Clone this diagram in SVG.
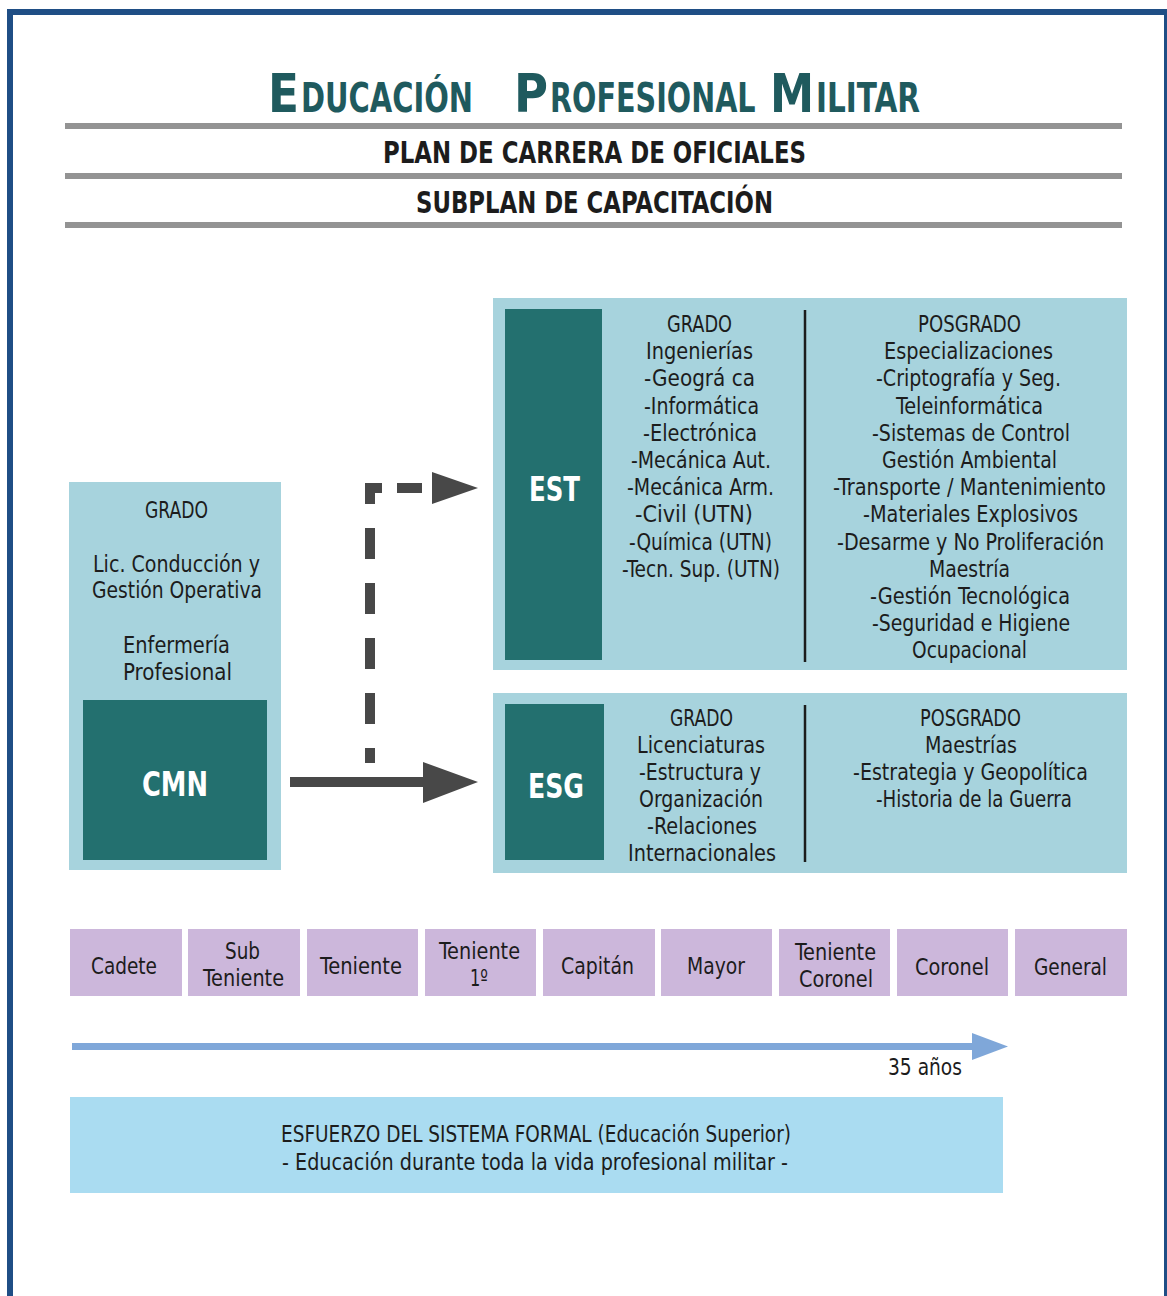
<svg xmlns="http://www.w3.org/2000/svg" width="1167" height="1296" viewBox="0 0 1167 1296">
<style>
  .t { font-family: "DejaVu Sans Condensed", "DejaVu Sans", sans-serif; font-size: 23px; fill: #1c1c1c; }
  .h { font-family: "DejaVu Sans Condensed", "DejaVu Sans", sans-serif; font-weight: bold; fill: #1c1c1c; }
  .title { font-family: "DejaVu Sans Condensed", "DejaVu Sans", sans-serif; font-weight: bold; fill: #1f5a5e; }
  .big { font-size: 54px; }
  .small { font-size: 40px; }
  .lbl { font-family: "DejaVu Sans Condensed", "DejaVu Sans", sans-serif; font-weight: bold; font-size: 34px; fill: #ffffff; }
  .outer { fill: #a7d3dd; }
  .inner { fill: #23706f; }
  .rank { fill: #ccb7db; }
  .rule { fill: #939393; }
  .div { stroke: #1c1c1c; stroke-width: 2.5; }
  .conn { fill: #484848; }
</style>
<rect x="0" y="0" width="1167" height="1296" fill="#ffffff"/>
<rect x="10" y="12" width="1157" height="1300" fill="none" stroke="#1f4e85" stroke-width="6"/>

<g id="title">
  <text class="title big" x="268" y="112" textLength="31" lengthAdjust="spacingAndGlyphs">E</text>
  <text class="title small" transform="translate(301,112) scale(0.8,1)" x="0" y="0" textLength="215" lengthAdjust="spacingAndGlyphs">DUCACIÓN</text>
  <text class="title big" x="514" y="112" textLength="34" lengthAdjust="spacingAndGlyphs">P</text>
  <text class="title small" transform="translate(550,112) scale(0.8,1)" x="0" y="0" textLength="257" lengthAdjust="spacingAndGlyphs">ROFESIONAL</text>
  <text class="title big" transform="translate(770,112) scale(0.9,1)" x="0" y="0" textLength="49" lengthAdjust="spacingAndGlyphs">M</text>
  <text class="title small" transform="translate(816,112) scale(0.8,1)" x="0" y="0" textLength="130" lengthAdjust="spacingAndGlyphs">ILITAR</text>
  <rect class="rule" x="65" y="123" width="1057" height="6"/>
  <text class="h" font-size="30" x="383" y="163" textLength="423" lengthAdjust="spacingAndGlyphs">PLAN DE CARRERA DE OFICIALES</text>
  <rect class="rule" x="65" y="173" width="1057" height="6"/>
  <text class="h" font-size="30" x="416" y="213" textLength="357" lengthAdjust="spacingAndGlyphs">SUBPLAN DE CAPACITACIÓN</text>
  <rect class="rule" x="65" y="222" width="1057" height="6"/>
</g>

<g id="EST">
  <rect class="outer" x="493" y="298" width="634" height="372"/>
  <rect class="inner" x="505" y="309" width="97" height="351"/>
  <text class="lbl" x="529" y="501" textLength="51" lengthAdjust="spacingAndGlyphs">EST</text>
  <line class="div" x1="805" y1="310" x2="805" y2="662"/>
  <text class="t" x="667" y="332" textLength="65" lengthAdjust="spacingAndGlyphs">GRADO</text>
  <text class="t" x="646" y="359" textLength="107" lengthAdjust="spacingAndGlyphs">Ingenierías</text>
  <text class="t" x="644" y="386" textLength="111" lengthAdjust="spacingAndGlyphs">-Geográ ca</text>
  <text class="t" x="644" y="414" textLength="115" lengthAdjust="spacingAndGlyphs">-Informática</text>
  <text class="t" x="643" y="441" textLength="114" lengthAdjust="spacingAndGlyphs">-Electrónica</text>
  <text class="t" x="631" y="468" textLength="140" lengthAdjust="spacingAndGlyphs">-Mecánica Aut.</text>
  <text class="t" x="627" y="495" textLength="147" lengthAdjust="spacingAndGlyphs">-Mecánica Arm.</text>
  <text class="t" x="635" y="522" textLength="118" lengthAdjust="spacingAndGlyphs">-Civil (UTN)</text>
  <text class="t" x="629" y="550" textLength="143" lengthAdjust="spacingAndGlyphs">-Química (UTN)</text>
  <text class="t" x="622" y="577" textLength="158" lengthAdjust="spacingAndGlyphs">-Tecn. Sup. (UTN)</text>

  <text class="t" x="918" y="332" textLength="103" lengthAdjust="spacingAndGlyphs">POSGRADO</text>
  <text class="t" x="884" y="359" textLength="169" lengthAdjust="spacingAndGlyphs">Especializaciones</text>
  <text class="t" x="876" y="386" textLength="185" lengthAdjust="spacingAndGlyphs">-Criptografía y Seg.</text>
  <text class="t" x="896" y="414" textLength="147" lengthAdjust="spacingAndGlyphs">Teleinformática</text>
  <text class="t" x="872" y="441" textLength="198" lengthAdjust="spacingAndGlyphs">-Sistemas de Control</text>
  <text class="t" x="882" y="468" textLength="175" lengthAdjust="spacingAndGlyphs">Gestión Ambiental</text>
  <text class="t" x="833" y="495" textLength="273" lengthAdjust="spacingAndGlyphs">-Transporte / Mantenimiento</text>
  <text class="t" x="863" y="522" textLength="215" lengthAdjust="spacingAndGlyphs">-Materiales Explosivos</text>
  <text class="t" x="837" y="550" textLength="267" lengthAdjust="spacingAndGlyphs">-Desarme y No Proliferación</text>
  <text class="t" x="929" y="577" textLength="81" lengthAdjust="spacingAndGlyphs">Maestría</text>
  <text class="t" x="870" y="604" textLength="200" lengthAdjust="spacingAndGlyphs">-Gestión Tecnológica</text>
  <text class="t" x="872" y="631" textLength="198" lengthAdjust="spacingAndGlyphs">-Seguridad e Higiene</text>
  <text class="t" x="912" y="658" textLength="115" lengthAdjust="spacingAndGlyphs">Ocupacional</text>
</g>

<g id="ESG">
  <rect class="outer" x="493" y="693" width="634" height="180"/>
  <rect class="inner" x="505" y="704" width="99" height="156"/>
  <text class="lbl" x="528" y="798" textLength="56" lengthAdjust="spacingAndGlyphs">ESG</text>
  <line class="div" x1="805" y1="705" x2="805" y2="862"/>
  <text class="t" x="670" y="726" textLength="63" lengthAdjust="spacingAndGlyphs">GRADO</text>
  <text class="t" x="637" y="753" textLength="128" lengthAdjust="spacingAndGlyphs">Licenciaturas</text>
  <text class="t" x="639" y="780" textLength="122" lengthAdjust="spacingAndGlyphs">-Estructura y</text>
  <text class="t" x="639" y="807" textLength="124" lengthAdjust="spacingAndGlyphs">Organización</text>
  <text class="t" x="647" y="834" textLength="110" lengthAdjust="spacingAndGlyphs">-Relaciones</text>
  <text class="t" x="628" y="861" textLength="148" lengthAdjust="spacingAndGlyphs">Internacionales</text>

  <text class="t" x="920" y="726" textLength="101" lengthAdjust="spacingAndGlyphs">POSGRADO</text>
  <text class="t" x="925" y="753" textLength="92" lengthAdjust="spacingAndGlyphs">Maestrías</text>
  <text class="t" x="853" y="780" textLength="235" lengthAdjust="spacingAndGlyphs">-Estrategia y Geopolítica</text>
  <text class="t" x="876" y="807" textLength="196" lengthAdjust="spacingAndGlyphs">-Historia de la Guerra</text>
</g>

<g id="CMN">
  <rect class="outer" x="69" y="482" width="212" height="388"/>
  <rect class="inner" x="83" y="700" width="184" height="160"/>
  <text class="lbl" x="142" y="796" textLength="66" lengthAdjust="spacingAndGlyphs">CMN</text>
  <text class="t" x="145" y="518" textLength="63" lengthAdjust="spacingAndGlyphs">GRADO</text>
  <text class="t" x="93" y="572" textLength="167" lengthAdjust="spacingAndGlyphs">Lic. Conducción y</text>
  <text class="t" x="92" y="598" textLength="170" lengthAdjust="spacingAndGlyphs">Gestión Operativa</text>
  <text class="t" x="123" y="653" textLength="107" lengthAdjust="spacingAndGlyphs">Enfermería</text>
  <text class="t" x="123" y="680" textLength="109" lengthAdjust="spacingAndGlyphs">Profesional</text>
</g>

<g id="connectors">
  <path d="M370,763 V488 H382" fill="none" stroke="#484848" stroke-width="10" stroke-dasharray="31 24" stroke-dashoffset="16"/>
  <line x1="397" y1="488" x2="422" y2="488" stroke="#484848" stroke-width="10"/>
  <polygon class="conn" points="432,472 478,488 432,504"/>
  <rect class="conn" x="290" y="777" width="136" height="10"/>
  <polygon class="conn" points="423,762 478,782 423,803"/>
</g>

<g id="ranks">
  <g id="rank-cadete"><rect class="rank" x="70" y="929" width="112" height="67"/><text class="t" x="91" y="974" textLength="66" lengthAdjust="spacingAndGlyphs">Cadete</text></g>
  <g id="rank-subteniente"><rect class="rank" x="188" y="929" width="112" height="67"/><text class="t" x="225" y="959" textLength="35" lengthAdjust="spacingAndGlyphs">Sub</text><text class="t" x="203" y="986" textLength="81" lengthAdjust="spacingAndGlyphs">Teniente</text></g>
  <g id="rank-teniente"><rect class="rank" x="307" y="929" width="111" height="67"/><text class="t" x="320" y="974" textLength="82" lengthAdjust="spacingAndGlyphs">Teniente</text></g>
  <g id="rank-teniente1"><rect class="rank" x="425" y="929" width="111" height="67"/><text class="t" x="439" y="959" textLength="81" lengthAdjust="spacingAndGlyphs">Teniente</text><text class="t" x="470" y="986" textLength="18" lengthAdjust="spacingAndGlyphs">1º</text></g>
  <g id="rank-capitan"><rect class="rank" x="543" y="929" width="112" height="67"/><text class="t" x="561" y="974" textLength="73" lengthAdjust="spacingAndGlyphs">Capitán</text></g>
  <g id="rank-mayor"><rect class="rank" x="661" y="929" width="111" height="67"/><text class="t" x="687" y="974" textLength="58" lengthAdjust="spacingAndGlyphs">Mayor</text></g>
  <g id="rank-tcoronel"><rect class="rank" x="779" y="929" width="111" height="67"/><text class="t" x="795" y="960" textLength="81" lengthAdjust="spacingAndGlyphs">Teniente</text><text class="t" x="799" y="987" textLength="74" lengthAdjust="spacingAndGlyphs">Coronel</text></g>
  <g id="rank-coronel"><rect class="rank" x="897" y="929" width="111" height="67"/><text class="t" x="915" y="975" textLength="74" lengthAdjust="spacingAndGlyphs">Coronel</text></g>
  <g id="rank-general"><rect class="rank" x="1015" y="929" width="112" height="67"/><text class="t" x="1034" y="975" textLength="73" lengthAdjust="spacingAndGlyphs">General</text></g>
</g>

<g id="timeline">
  <rect x="72" y="1043" width="905" height="7" fill="#7fa7d9"/>
  <polygon points="972,1033 1008,1046.5 972,1060" fill="#7fa7d9"/>
  <text class="t" x="888" y="1075" textLength="74" lengthAdjust="spacingAndGlyphs">35 años</text>
</g>

<g id="esfuerzo">
  <rect x="70" y="1097" width="933" height="96" fill="#aadcf1"/>
  <text class="t" x="281" y="1142" textLength="510" lengthAdjust="spacingAndGlyphs">ESFUERZO DEL SISTEMA FORMAL (Educación Superior)</text>
  <text class="t" x="282" y="1170" textLength="506" lengthAdjust="spacingAndGlyphs">- Educación durante toda la vida profesional militar -</text>
</g>
</svg>
